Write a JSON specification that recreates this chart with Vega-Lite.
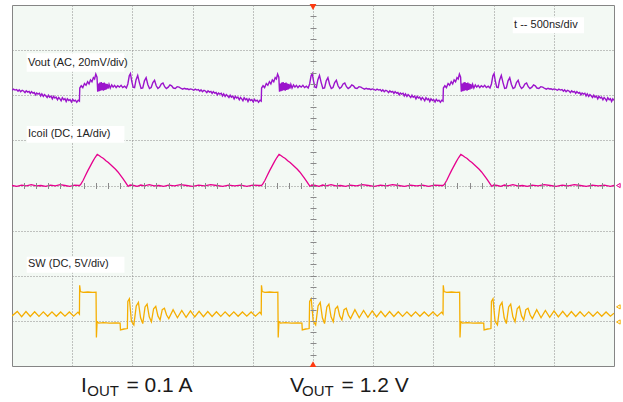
{
  "$schema": "https://vega.github.io/schema/vega-lite/v6.json",
  "width": 602,
  "height": 361,
  "autosize": {"type": "none"},
  "padding": {"left": 12, "top": 5, "right": 9, "bottom": 36},
  "background": "white",
  "config": {
    "view": {"fill": "#f3f9f4", "stroke": "#858585", "strokeWidth": 1},
    "font": "Liberation Sans"
  },
  "datasets": {
    "boxes": [
      {"t1": -2378, "t2": -1566, "y1": 2.930, "y2": 2.522},
      {"t1": -2378, "t2": -1566, "y1": 1.319, "y2": 0.948},
      {"t1": -2378, "t2": -1566, "y1": -1.578, "y2": -1.932},
      {"t1": 1659, "t2": 2251, "y1": 3.727, "y2": 3.373}
    ],
    "labels": [
      {"t": -2367, "y": 2.655, "label": "Vout (AC, 20mV/div)"},
      {"t": -2367, "y": 1.081, "label": "Icoil (DC, 1A/div)"},
      {"t": -2367, "y": -1.800, "label": "SW (DC, 5V/div)"},
      {"t": 1670, "y": 3.484, "label": "t -- 500ns/div"}
    ],
    "big": [
      {"t": -1927, "y": -4.576, "label": "I"},
      {"t": -1549, "y": -4.576, "label": "= 0.1 A"},
      {"t": -191, "y": -4.576, "label": "V"},
      {"t": 237, "y": -4.576, "label": "= 1.2 V"}
    ],
    "sub": [
      {"t": -1875, "y": -4.576, "label": "OUT"},
      {"t": -91, "y": -4.576, "label": "OUT"}
    ],
    "trig": [
      {"t": 0, "y": 3.956, "kind": "top"},
      {"t": 0, "y": -3.96, "kind": "bottom"}
    ],
    "marks": [
      {"t": 2536, "y": 0.0, "ch": "Icoil"},
      {"t": 2536, "y": -2.69, "ch": "SW"},
      {"t": 2536, "y": -3.025, "ch": "SW"}
    ],
    "vout": [
      {"t": -2500, "v": 2.2}, {"t": -2488, "v": 2.7}, {"t": -2475, "v": 2.3}, {"t": -2462, "v": 2.5}, {"t": -2450, "v": 1.8},
      {"t": -2440, "v": 2.4}, {"t": -2428, "v": 1.6}, {"t": -2415, "v": 2.2}, {"t": -2404, "v": 1.9}, {"t": -2392, "v": 1.2},
      {"t": -2382, "v": 2.0}, {"t": -2370, "v": 1.4}, {"t": -2358, "v": 1.7}, {"t": -2348, "v": 0.8}, {"t": -2338, "v": 1.6},
      {"t": -2326, "v": 0.9}, {"t": -2315, "v": 1.2}, {"t": -2304, "v": 0.2}, {"t": -2295, "v": 1.0}, {"t": -2284, "v": 0.5},
      {"t": -2272, "v": 0.9}, {"t": -2262, "v": -0.3}, {"t": -2252, "v": 0.6}, {"t": -2240, "v": -0.5}, {"t": -2230, "v": 0.3},
      {"t": -2220, "v": -0.2}, {"t": -2208, "v": -1.0}, {"t": -2198, "v": 0.0}, {"t": -2188, "v": -0.9}, {"t": -2176, "v": -0.4},
      {"t": -2165, "v": -1.6}, {"t": -2155, "v": -0.5}, {"t": -2144, "v": -1.2}, {"t": -2134, "v": -0.8}, {"t": -2122, "v": -2.0},
      {"t": -2112, "v": -1.0}, {"t": -2102, "v": -1.6}, {"t": -2092, "v": -2.4}, {"t": -2082, "v": -1.1}, {"t": -2070, "v": -2.0},
      {"t": -2060, "v": -1.5}, {"t": -2050, "v": -2.8}, {"t": -2040, "v": -1.6}, {"t": -2028, "v": -2.3}, {"t": -2018, "v": -1.9},
      {"t": -2006, "v": -3.0}, {"t": -1996, "v": -1.8}, {"t": -1984, "v": -2.6}, {"t": -1974, "v": -2.2}, {"t": -1962, "v": -3.1},
      {"t": -1950, "v": -2.2},
      {"t": -1940, "v": -2.6}, {"t": -1937, "v": 3.2}, {"t": -1925, "v": 4.2}, {"t": -1912, "v": 3.4}, {"t": -1898, "v": 5.2},
      {"t": -1885, "v": 4.4}, {"t": -1872, "v": 6.0}, {"t": -1860, "v": 5.0}, {"t": -1848, "v": 6.8}, {"t": -1836, "v": 6.0},
      {"t": -1824, "v": 7.8}, {"t": -1814, "v": 7.2}, {"t": -1804, "v": 9.4}, {"t": -1794, "v": 8.0}, {"t": -1788, "v": 1.6},
      {"t": -1782, "v": 5.2}, {"t": -1776, "v": 1.8}, {"t": -1770, "v": 5.6}, {"t": -1764, "v": 2.0}, {"t": -1758, "v": 5.8},
      {"t": -1752, "v": 2.2}, {"t": -1746, "v": 5.4}, {"t": -1740, "v": 2.0}, {"t": -1734, "v": 5.6}, {"t": -1728, "v": 2.4},
      {"t": -1722, "v": 5.2}, {"t": -1716, "v": 2.6}, {"t": -1710, "v": 5.0}, {"t": -1702, "v": 3.0}, {"t": -1694, "v": 4.8},
      {"t": -1684, "v": 3.2}, {"t": -1672, "v": 4.6}, {"t": -1660, "v": 3.6}, {"t": -1648, "v": 4.4}, {"t": -1635, "v": 3.4},
      {"t": -1622, "v": 4.2}, {"t": -1608, "v": 3.6}, {"t": -1594, "v": 4.4}, {"t": -1580, "v": 3.4}, {"t": -1565, "v": 4.0},
      {"t": -1550, "v": 3.2}, {"t": -1538, "v": 5.0}, {"t": -1526, "v": 8.6}, {"t": -1516, "v": 9.6}, {"t": -1506, "v": 6.4},
      {"t": -1494, "v": 3.6}, {"t": -1482, "v": 3.4}, {"t": -1470, "v": 6.8}, {"t": -1456, "v": 8.8}, {"t": -1442, "v": 5.6},
      {"t": -1428, "v": 3.0}, {"t": -1414, "v": 3.2}, {"t": -1400, "v": 6.4}, {"t": -1386, "v": 7.8}, {"t": -1372, "v": 4.8},
      {"t": -1358, "v": 3.0}, {"t": -1344, "v": 3.4}, {"t": -1330, "v": 5.6}, {"t": -1316, "v": 6.6}, {"t": -1302, "v": 4.2},
      {"t": -1288, "v": 3.0}, {"t": -1274, "v": 3.6}, {"t": -1260, "v": 5.0}, {"t": -1246, "v": 5.4}, {"t": -1232, "v": 3.8},
      {"t": -1218, "v": 3.0}, {"t": -1202, "v": 3.6}, {"t": -1188, "v": 4.6}, {"t": -1174, "v": 4.2}, {"t": -1160, "v": 3.2},
      {"t": -1144, "v": 3.0}, {"t": -1128, "v": 3.8}, {"t": -1112, "v": 3.6},
      {"t": -1095, "v": 3.0}, {"t": -1082, "v": 2.7}, {"t": -1068, "v": 3.1}, {"t": -1056, "v": 2.8}, {"t": -1043, "v": 2.9},
      {"t": -1030, "v": 2.5}, {"t": -1018, "v": 2.8}, {"t": -1004, "v": 2.6}, {"t": -990, "v": 2.2}, {"t": -978, "v": 2.7},
      {"t": -965, "v": 2.3}, {"t": -952, "v": 2.5}, {"t": -940, "v": 1.8}, {"t": -930, "v": 2.4}, {"t": -918, "v": 1.6},
      {"t": -905, "v": 2.2}, {"t": -894, "v": 1.9}, {"t": -882, "v": 1.2}, {"t": -872, "v": 2.0}, {"t": -860, "v": 1.4},
      {"t": -848, "v": 1.7}, {"t": -838, "v": 0.8}, {"t": -828, "v": 1.6}, {"t": -816, "v": 0.9}, {"t": -805, "v": 1.2},
      {"t": -794, "v": 0.2}, {"t": -785, "v": 1.0}, {"t": -774, "v": 0.5}, {"t": -762, "v": 0.9}, {"t": -752, "v": -0.3},
      {"t": -742, "v": 0.6}, {"t": -730, "v": -0.5}, {"t": -720, "v": 0.3}, {"t": -710, "v": -0.2}, {"t": -698, "v": -1.0},
      {"t": -688, "v": 0.0}, {"t": -678, "v": -0.9}, {"t": -666, "v": -0.4}, {"t": -655, "v": -1.6}, {"t": -645, "v": -0.5},
      {"t": -634, "v": -1.2}, {"t": -624, "v": -0.8}, {"t": -612, "v": -2.0}, {"t": -602, "v": -1.0}, {"t": -592, "v": -1.6},
      {"t": -582, "v": -2.4}, {"t": -572, "v": -1.1}, {"t": -560, "v": -2.0}, {"t": -550, "v": -1.5}, {"t": -540, "v": -2.8},
      {"t": -530, "v": -1.6}, {"t": -518, "v": -2.3}, {"t": -508, "v": -1.9}, {"t": -496, "v": -3.0}, {"t": -486, "v": -1.8},
      {"t": -474, "v": -2.6}, {"t": -464, "v": -2.2}, {"t": -452, "v": -3.1}, {"t": -440, "v": -2.2},
      {"t": -430, "v": -2.6}, {"t": -427, "v": 3.2}, {"t": -415, "v": 4.2}, {"t": -402, "v": 3.4}, {"t": -388, "v": 5.2},
      {"t": -375, "v": 4.4}, {"t": -362, "v": 6.0}, {"t": -350, "v": 5.0}, {"t": -338, "v": 6.8}, {"t": -326, "v": 6.0},
      {"t": -314, "v": 7.8}, {"t": -304, "v": 7.2}, {"t": -294, "v": 9.4}, {"t": -284, "v": 8.0}, {"t": -278, "v": 1.6},
      {"t": -272, "v": 5.2}, {"t": -266, "v": 1.8}, {"t": -260, "v": 5.6}, {"t": -254, "v": 2.0}, {"t": -248, "v": 5.8},
      {"t": -242, "v": 2.2}, {"t": -236, "v": 5.4}, {"t": -230, "v": 2.0}, {"t": -224, "v": 5.6}, {"t": -218, "v": 2.4},
      {"t": -212, "v": 5.2}, {"t": -206, "v": 2.6}, {"t": -200, "v": 5.0}, {"t": -192, "v": 3.0}, {"t": -184, "v": 4.8},
      {"t": -174, "v": 3.2}, {"t": -162, "v": 4.6}, {"t": -150, "v": 3.6}, {"t": -138, "v": 4.4}, {"t": -125, "v": 3.4},
      {"t": -112, "v": 4.2}, {"t": -98, "v": 3.6}, {"t": -84, "v": 4.4}, {"t": -70, "v": 3.4}, {"t": -55, "v": 4.0},
      {"t": -40, "v": 3.2}, {"t": -28, "v": 5.0}, {"t": -16, "v": 8.6}, {"t": -6, "v": 9.6}, {"t": 4, "v": 6.4},
      {"t": 16, "v": 3.6}, {"t": 28, "v": 3.4}, {"t": 40, "v": 6.8}, {"t": 54, "v": 8.8}, {"t": 68, "v": 5.6},
      {"t": 82, "v": 3.0}, {"t": 96, "v": 3.2}, {"t": 110, "v": 6.4}, {"t": 124, "v": 7.8}, {"t": 138, "v": 4.8},
      {"t": 152, "v": 3.0}, {"t": 166, "v": 3.4}, {"t": 180, "v": 5.6}, {"t": 194, "v": 6.6}, {"t": 208, "v": 4.2},
      {"t": 222, "v": 3.0}, {"t": 236, "v": 3.6}, {"t": 250, "v": 5.0}, {"t": 264, "v": 5.4}, {"t": 278, "v": 3.8},
      {"t": 292, "v": 3.0}, {"t": 308, "v": 3.6}, {"t": 322, "v": 4.6}, {"t": 336, "v": 4.2}, {"t": 350, "v": 3.2},
      {"t": 366, "v": 3.0}, {"t": 382, "v": 3.8}, {"t": 398, "v": 3.6},
      {"t": 415, "v": 3.0}, {"t": 428, "v": 2.7}, {"t": 442, "v": 3.1}, {"t": 454, "v": 2.8}, {"t": 467, "v": 2.9},
      {"t": 480, "v": 2.5}, {"t": 492, "v": 2.8}, {"t": 506, "v": 2.6}, {"t": 520, "v": 2.2}, {"t": 532, "v": 2.7},
      {"t": 545, "v": 2.3}, {"t": 558, "v": 2.5}, {"t": 570, "v": 1.8}, {"t": 580, "v": 2.4}, {"t": 592, "v": 1.6},
      {"t": 605, "v": 2.2}, {"t": 616, "v": 1.9}, {"t": 628, "v": 1.2}, {"t": 638, "v": 2.0}, {"t": 650, "v": 1.4},
      {"t": 662, "v": 1.7}, {"t": 672, "v": 0.8}, {"t": 682, "v": 1.6}, {"t": 694, "v": 0.9}, {"t": 705, "v": 1.2},
      {"t": 716, "v": 0.2}, {"t": 725, "v": 1.0}, {"t": 736, "v": 0.5}, {"t": 748, "v": 0.9}, {"t": 758, "v": -0.3},
      {"t": 768, "v": 0.6}, {"t": 780, "v": -0.5}, {"t": 790, "v": 0.3}, {"t": 800, "v": -0.2}, {"t": 812, "v": -1.0},
      {"t": 822, "v": 0.0}, {"t": 832, "v": -0.9}, {"t": 844, "v": -0.4}, {"t": 855, "v": -1.6}, {"t": 865, "v": -0.5},
      {"t": 876, "v": -1.2}, {"t": 886, "v": -0.8}, {"t": 898, "v": -2.0}, {"t": 908, "v": -1.0}, {"t": 918, "v": -1.6},
      {"t": 928, "v": -2.4}, {"t": 938, "v": -1.1}, {"t": 950, "v": -2.0}, {"t": 960, "v": -1.5}, {"t": 970, "v": -2.8},
      {"t": 980, "v": -1.6}, {"t": 992, "v": -2.3}, {"t": 1002, "v": -1.9}, {"t": 1014, "v": -3.0}, {"t": 1024, "v": -1.8},
      {"t": 1036, "v": -2.6}, {"t": 1046, "v": -2.2}, {"t": 1058, "v": -3.1}, {"t": 1070, "v": -2.2},
      {"t": 1080, "v": -2.6}, {"t": 1083, "v": 3.2}, {"t": 1095, "v": 4.2}, {"t": 1108, "v": 3.4}, {"t": 1122, "v": 5.2},
      {"t": 1135, "v": 4.4}, {"t": 1148, "v": 6.0}, {"t": 1160, "v": 5.0}, {"t": 1172, "v": 6.8}, {"t": 1184, "v": 6.0},
      {"t": 1196, "v": 7.8}, {"t": 1206, "v": 7.2}, {"t": 1216, "v": 9.4}, {"t": 1226, "v": 8.0}, {"t": 1232, "v": 1.6},
      {"t": 1238, "v": 5.2}, {"t": 1244, "v": 1.8}, {"t": 1250, "v": 5.6}, {"t": 1256, "v": 2.0}, {"t": 1262, "v": 5.8},
      {"t": 1268, "v": 2.2}, {"t": 1274, "v": 5.4}, {"t": 1280, "v": 2.0}, {"t": 1286, "v": 5.6}, {"t": 1292, "v": 2.4},
      {"t": 1298, "v": 5.2}, {"t": 1304, "v": 2.6}, {"t": 1310, "v": 5.0}, {"t": 1318, "v": 3.0}, {"t": 1326, "v": 4.8},
      {"t": 1336, "v": 3.2}, {"t": 1348, "v": 4.6}, {"t": 1360, "v": 3.6}, {"t": 1372, "v": 4.4}, {"t": 1385, "v": 3.4},
      {"t": 1398, "v": 4.2}, {"t": 1412, "v": 3.6}, {"t": 1426, "v": 4.4}, {"t": 1440, "v": 3.4}, {"t": 1455, "v": 4.0},
      {"t": 1470, "v": 3.2}, {"t": 1482, "v": 5.0}, {"t": 1494, "v": 8.6}, {"t": 1504, "v": 9.6}, {"t": 1514, "v": 6.4},
      {"t": 1526, "v": 3.6}, {"t": 1538, "v": 3.4}, {"t": 1550, "v": 6.8}, {"t": 1564, "v": 8.8}, {"t": 1578, "v": 5.6},
      {"t": 1592, "v": 3.0}, {"t": 1606, "v": 3.2}, {"t": 1620, "v": 6.4}, {"t": 1634, "v": 7.8}, {"t": 1648, "v": 4.8},
      {"t": 1662, "v": 3.0}, {"t": 1676, "v": 3.4}, {"t": 1690, "v": 5.6}, {"t": 1704, "v": 6.6}, {"t": 1718, "v": 4.2},
      {"t": 1732, "v": 3.0}, {"t": 1746, "v": 3.6}, {"t": 1760, "v": 5.0}, {"t": 1774, "v": 5.4}, {"t": 1788, "v": 3.8},
      {"t": 1802, "v": 3.0}, {"t": 1818, "v": 3.6}, {"t": 1832, "v": 4.6}, {"t": 1846, "v": 4.2}, {"t": 1860, "v": 3.2},
      {"t": 1876, "v": 3.0}, {"t": 1892, "v": 3.8}, {"t": 1908, "v": 3.6},
      {"t": 1925, "v": 3.0}, {"t": 1938, "v": 2.7}, {"t": 1952, "v": 3.1}, {"t": 1964, "v": 2.8}, {"t": 1977, "v": 2.9},
      {"t": 1990, "v": 2.5}, {"t": 2002, "v": 2.8}, {"t": 2016, "v": 2.6}, {"t": 2030, "v": 2.2}, {"t": 2042, "v": 2.7},
      {"t": 2055, "v": 2.3}, {"t": 2068, "v": 2.5}, {"t": 2080, "v": 1.8}, {"t": 2090, "v": 2.4}, {"t": 2102, "v": 1.6},
      {"t": 2115, "v": 2.2}, {"t": 2126, "v": 1.9}, {"t": 2138, "v": 1.2}, {"t": 2148, "v": 2.0}, {"t": 2160, "v": 1.4},
      {"t": 2172, "v": 1.7}, {"t": 2182, "v": 0.8}, {"t": 2192, "v": 1.6}, {"t": 2204, "v": 0.9}, {"t": 2215, "v": 1.2},
      {"t": 2226, "v": 0.2}, {"t": 2235, "v": 1.0}, {"t": 2246, "v": 0.5}, {"t": 2258, "v": 0.9}, {"t": 2268, "v": -0.3},
      {"t": 2278, "v": 0.6}, {"t": 2290, "v": -0.5}, {"t": 2300, "v": 0.3}, {"t": 2310, "v": -0.2}, {"t": 2322, "v": -1.0},
      {"t": 2332, "v": 0.0}, {"t": 2342, "v": -0.9}, {"t": 2354, "v": -0.4}, {"t": 2365, "v": -1.6}, {"t": 2375, "v": -0.5},
      {"t": 2386, "v": -1.2}, {"t": 2396, "v": -0.8}, {"t": 2408, "v": -2.0}, {"t": 2418, "v": -1.0}, {"t": 2428, "v": -1.6},
      {"t": 2438, "v": -2.4}, {"t": 2448, "v": -1.1}, {"t": 2460, "v": -2.0}, {"t": 2470, "v": -1.5}, {"t": 2480, "v": -2.8},
      {"t": 2490, "v": -1.6}, {"t": 2500, "v": -2.3}
    ],
    "icoil": [
      {"t": -2500, "v": 0.0}, {"t": -2460, "v": -0.02}, {"t": -2420, "v": 0.01}, {"t": -2380, "v": -0.01}, {"t": -2340, "v": 0.02},
      {"t": -2300, "v": -0.01}, {"t": -2260, "v": 0.0}, {"t": -2220, "v": -0.02}, {"t": -2180, "v": 0.01}, {"t": -2140, "v": -0.01},
      {"t": -2100, "v": 0.02}, {"t": -2060, "v": 0.0}, {"t": -2020, "v": -0.02}, {"t": -1980, "v": 0.01}, {"t": -1945, "v": 0.0},
      {"t": -1940, "v": 0.0}, {"t": -1930, "v": 0.02}, {"t": -1910, "v": 0.11}, {"t": -1890, "v": 0.22}, {"t": -1870, "v": 0.33},
      {"t": -1850, "v": 0.43}, {"t": -1830, "v": 0.53}, {"t": -1810, "v": 0.62}, {"t": -1792, "v": 0.69}, {"t": -1780, "v": 0.67},
      {"t": -1760, "v": 0.63}, {"t": -1740, "v": 0.60}, {"t": -1720, "v": 0.55}, {"t": -1700, "v": 0.51}, {"t": -1680, "v": 0.46},
      {"t": -1660, "v": 0.41}, {"t": -1640, "v": 0.36}, {"t": -1620, "v": 0.30}, {"t": -1600, "v": 0.23}, {"t": -1580, "v": 0.16},
      {"t": -1560, "v": 0.08}, {"t": -1545, "v": 0.02}, {"t": -1535, "v": -0.02}, {"t": -1520, "v": 0.01}, {"t": -1490, "v": 0.0},
      {"t": -1460, "v": -0.02}, {"t": -1430, "v": 0.01}, {"t": -1400, "v": -0.01}, {"t": -1360, "v": 0.02}, {"t": -1320, "v": -0.01},
      {"t": -1280, "v": 0.0}, {"t": -1240, "v": -0.02}, {"t": -1200, "v": 0.01}, {"t": -1150, "v": -0.01}, {"t": -1100, "v": 0.02},
      {"t": -1050, "v": 0.0}, {"t": -1000, "v": -0.02}, {"t": -950, "v": 0.01}, {"t": -900, "v": -0.01}, {"t": -850, "v": 0.02},
      {"t": -800, "v": 0.0}, {"t": -750, "v": -0.02}, {"t": -700, "v": 0.01}, {"t": -650, "v": -0.01}, {"t": -600, "v": 0.01},
      {"t": -550, "v": -0.02}, {"t": -500, "v": 0.01}, {"t": -450, "v": 0.0},
      {"t": -430, "v": 0.0}, {"t": -420, "v": 0.02}, {"t": -400, "v": 0.11}, {"t": -380, "v": 0.22}, {"t": -360, "v": 0.33},
      {"t": -340, "v": 0.43}, {"t": -320, "v": 0.53}, {"t": -300, "v": 0.62}, {"t": -282, "v": 0.69}, {"t": -270, "v": 0.67},
      {"t": -250, "v": 0.63}, {"t": -230, "v": 0.60}, {"t": -210, "v": 0.55}, {"t": -190, "v": 0.51}, {"t": -170, "v": 0.46},
      {"t": -150, "v": 0.41}, {"t": -130, "v": 0.36}, {"t": -110, "v": 0.30}, {"t": -90, "v": 0.23}, {"t": -70, "v": 0.16},
      {"t": -50, "v": 0.08}, {"t": -35, "v": 0.02}, {"t": -25, "v": -0.02}, {"t": -10, "v": 0.01}, {"t": 20, "v": 0.0},
      {"t": 50, "v": -0.02}, {"t": 80, "v": 0.01}, {"t": 110, "v": -0.01}, {"t": 150, "v": 0.02}, {"t": 190, "v": -0.01},
      {"t": 230, "v": 0.0}, {"t": 270, "v": -0.02}, {"t": 310, "v": 0.01}, {"t": 360, "v": -0.01}, {"t": 410, "v": 0.02},
      {"t": 460, "v": 0.0}, {"t": 510, "v": -0.02}, {"t": 560, "v": 0.01}, {"t": 610, "v": -0.01}, {"t": 660, "v": 0.02},
      {"t": 710, "v": 0.0}, {"t": 760, "v": -0.02}, {"t": 810, "v": 0.01}, {"t": 860, "v": -0.01}, {"t": 910, "v": 0.01},
      {"t": 960, "v": -0.02}, {"t": 1010, "v": 0.01}, {"t": 1060, "v": 0.0},
      {"t": 1080, "v": 0.0}, {"t": 1090, "v": 0.02}, {"t": 1110, "v": 0.11}, {"t": 1130, "v": 0.22}, {"t": 1150, "v": 0.33},
      {"t": 1170, "v": 0.43}, {"t": 1190, "v": 0.53}, {"t": 1210, "v": 0.62}, {"t": 1228, "v": 0.69}, {"t": 1240, "v": 0.67},
      {"t": 1260, "v": 0.63}, {"t": 1280, "v": 0.60}, {"t": 1300, "v": 0.55}, {"t": 1320, "v": 0.51}, {"t": 1340, "v": 0.46},
      {"t": 1360, "v": 0.41}, {"t": 1380, "v": 0.36}, {"t": 1400, "v": 0.30}, {"t": 1420, "v": 0.23}, {"t": 1440, "v": 0.16},
      {"t": 1460, "v": 0.08}, {"t": 1475, "v": 0.02}, {"t": 1485, "v": -0.02}, {"t": 1500, "v": 0.01}, {"t": 1530, "v": 0.0},
      {"t": 1560, "v": -0.02}, {"t": 1590, "v": 0.01}, {"t": 1620, "v": -0.01}, {"t": 1660, "v": 0.02}, {"t": 1700, "v": -0.01},
      {"t": 1740, "v": 0.0}, {"t": 1780, "v": -0.02}, {"t": 1820, "v": 0.01}, {"t": 1870, "v": -0.01}, {"t": 1920, "v": 0.02},
      {"t": 1970, "v": 0.0}, {"t": 2020, "v": -0.02}, {"t": 2070, "v": 0.01}, {"t": 2120, "v": -0.01}, {"t": 2170, "v": 0.02},
      {"t": 2220, "v": 0.0}, {"t": 2270, "v": -0.02}, {"t": 2320, "v": 0.01}, {"t": 2370, "v": -0.01}, {"t": 2420, "v": 0.01},
      {"t": 2470, "v": -0.02}, {"t": 2500, "v": 0.0}
    ],
    "sw": [
      {"t": -2500, "v": 1.0}, {"t": -2456, "v": 1.5}, {"t": -2420, "v": 0.92}, {"t": -2384, "v": 1.48}, {"t": -2348, "v": 0.94},
      {"t": -2312, "v": 1.46}, {"t": -2276, "v": 0.95}, {"t": -2240, "v": 1.45}, {"t": -2204, "v": 0.96}, {"t": -2168, "v": 1.45},
      {"t": -2132, "v": 0.96}, {"t": -2096, "v": 1.44}, {"t": -2060, "v": 0.97}, {"t": -2024, "v": 1.44}, {"t": -1988, "v": 0.97},
      {"t": -1952, "v": 1.42},
      {"t": -1940, "v": 1.2}, {"t": -1938, "v": 4.4}, {"t": -1932, "v": 3.7}, {"t": -1910, "v": 3.6}, {"t": -1870, "v": 3.65},
      {"t": -1830, "v": 3.6}, {"t": -1802, "v": 3.62}, {"t": -1799, "v": -1.4}, {"t": -1793, "v": 0.4}, {"t": -1780, "v": 0.2},
      {"t": -1740, "v": 0.25}, {"t": -1690, "v": 0.2}, {"t": -1640, "v": 0.22}, {"t": -1602, "v": 0.2}, {"t": -1599, "v": -0.55},
      {"t": -1570, "v": -0.45}, {"t": -1542, "v": -0.4}, {"t": -1538, "v": 2.6}, {"t": -1525, "v": 2.9}, {"t": -1508, "v": 0.4},
      {"t": -1488, "v": 0.0}, {"t": -1468, "v": 2.1}, {"t": -1450, "v": 2.5}, {"t": -1432, "v": 0.8}, {"t": -1414, "v": 0.15},
      {"t": -1395, "v": 2.0}, {"t": -1378, "v": 2.3}, {"t": -1360, "v": 0.9}, {"t": -1342, "v": 0.35}, {"t": -1324, "v": 1.8},
      {"t": -1306, "v": 2.05}, {"t": -1288, "v": 1.0}, {"t": -1270, "v": 0.55}, {"t": -1252, "v": 1.7}, {"t": -1234, "v": 1.85},
      {"t": -1216, "v": 1.1}, {"t": -1198, "v": 0.7}, {"t": -1162, "v": 1.7}, {"t": -1126, "v": 0.8}, {"t": -1090, "v": 1.6},
      {"t": -1054, "v": 0.85}, {"t": -1018, "v": 1.55}, {"t": -982, "v": 0.9}, {"t": -946, "v": 1.5}, {"t": -910, "v": 0.92},
      {"t": -874, "v": 1.48}, {"t": -838, "v": 0.94}, {"t": -802, "v": 1.46}, {"t": -766, "v": 0.95}, {"t": -730, "v": 1.45},
      {"t": -694, "v": 0.96}, {"t": -658, "v": 1.45}, {"t": -622, "v": 0.96}, {"t": -586, "v": 1.44}, {"t": -550, "v": 0.97},
      {"t": -514, "v": 1.44}, {"t": -478, "v": 0.97}, {"t": -442, "v": 1.42},
      {"t": -430, "v": 1.2}, {"t": -428, "v": 4.4}, {"t": -422, "v": 3.7}, {"t": -400, "v": 3.6}, {"t": -360, "v": 3.65},
      {"t": -320, "v": 3.6}, {"t": -292, "v": 3.62}, {"t": -289, "v": -1.4}, {"t": -283, "v": 0.4}, {"t": -270, "v": 0.2},
      {"t": -230, "v": 0.25}, {"t": -180, "v": 0.2}, {"t": -130, "v": 0.22}, {"t": -92, "v": 0.2}, {"t": -89, "v": -0.55},
      {"t": -60, "v": -0.45}, {"t": -32, "v": -0.4}, {"t": -28, "v": 2.6}, {"t": -15, "v": 2.9}, {"t": 2, "v": 0.4},
      {"t": 22, "v": 0.0}, {"t": 42, "v": 2.1}, {"t": 60, "v": 2.5}, {"t": 78, "v": 0.8}, {"t": 96, "v": 0.15},
      {"t": 115, "v": 2.0}, {"t": 132, "v": 2.3}, {"t": 150, "v": 0.9}, {"t": 168, "v": 0.35}, {"t": 186, "v": 1.8},
      {"t": 204, "v": 2.05}, {"t": 222, "v": 1.0}, {"t": 240, "v": 0.55}, {"t": 258, "v": 1.7}, {"t": 276, "v": 1.85},
      {"t": 294, "v": 1.1}, {"t": 312, "v": 0.7}, {"t": 348, "v": 1.7}, {"t": 384, "v": 0.8}, {"t": 420, "v": 1.6},
      {"t": 456, "v": 0.85}, {"t": 492, "v": 1.55}, {"t": 528, "v": 0.9}, {"t": 564, "v": 1.5}, {"t": 600, "v": 0.92},
      {"t": 636, "v": 1.48}, {"t": 672, "v": 0.94}, {"t": 708, "v": 1.46}, {"t": 744, "v": 0.95}, {"t": 780, "v": 1.45},
      {"t": 816, "v": 0.96}, {"t": 852, "v": 1.45}, {"t": 888, "v": 0.96}, {"t": 924, "v": 1.44}, {"t": 960, "v": 0.97},
      {"t": 996, "v": 1.44}, {"t": 1032, "v": 0.97}, {"t": 1068, "v": 1.42},
      {"t": 1080, "v": 1.2}, {"t": 1082, "v": 4.4}, {"t": 1088, "v": 3.7}, {"t": 1110, "v": 3.6}, {"t": 1150, "v": 3.65},
      {"t": 1190, "v": 3.6}, {"t": 1218, "v": 3.62}, {"t": 1221, "v": -1.4}, {"t": 1227, "v": 0.4}, {"t": 1240, "v": 0.2},
      {"t": 1280, "v": 0.25}, {"t": 1330, "v": 0.2}, {"t": 1380, "v": 0.22}, {"t": 1418, "v": 0.2}, {"t": 1421, "v": -0.55},
      {"t": 1450, "v": -0.45}, {"t": 1478, "v": -0.4}, {"t": 1482, "v": 2.6}, {"t": 1495, "v": 2.9}, {"t": 1512, "v": 0.4},
      {"t": 1532, "v": 0.0}, {"t": 1552, "v": 2.1}, {"t": 1570, "v": 2.5}, {"t": 1588, "v": 0.8}, {"t": 1606, "v": 0.15},
      {"t": 1625, "v": 2.0}, {"t": 1642, "v": 2.3}, {"t": 1660, "v": 0.9}, {"t": 1678, "v": 0.35}, {"t": 1696, "v": 1.8},
      {"t": 1714, "v": 2.05}, {"t": 1732, "v": 1.0}, {"t": 1750, "v": 0.55}, {"t": 1768, "v": 1.7}, {"t": 1786, "v": 1.85},
      {"t": 1804, "v": 1.1}, {"t": 1822, "v": 0.7}, {"t": 1858, "v": 1.7}, {"t": 1894, "v": 0.8}, {"t": 1930, "v": 1.6},
      {"t": 1966, "v": 0.85}, {"t": 2002, "v": 1.55}, {"t": 2038, "v": 0.9}, {"t": 2074, "v": 1.5}, {"t": 2110, "v": 0.92},
      {"t": 2146, "v": 1.48}, {"t": 2182, "v": 0.94}, {"t": 2218, "v": 1.46}, {"t": 2254, "v": 0.95}, {"t": 2290, "v": 1.45},
      {"t": 2326, "v": 0.96}, {"t": 2362, "v": 1.45}, {"t": 2398, "v": 0.96}, {"t": 2434, "v": 1.44}, {"t": 2470, "v": 0.97},
      {"t": 2500, "v": 1.3}
    ]
  },
  "layer": [
    {
      "data": {"name": "boxes"},
      "mark": {"type": "rect", "fill": "white", "stroke": null},
      "encoding": {
        "x": {"field": "t1", "type": "quantitative",
              "scale": {"domain": [-2500, 2500], "nice": false, "zero": false},
              "axis": {"values": [-2000, -1500, -1000, -500, 0, 500, 1000, 1500, 2000], "grid": true,
                       "gridDash": [1, 2], "gridColor": "#8a8a8a", "gridOpacity": 1, "gridWidth": 1,
                       "ticks": false, "labels": false, "domain": false, "title": null}},
        "x2": {"field": "t2"},
        "y": {"field": "y1", "type": "quantitative",
              "scale": {"domain": [-4, 4], "nice": false, "zero": false},
              "axis": {"values": [-3, -2, -1, 0, 1, 2, 3], "grid": true,
                       "gridDash": [1, 2], "gridColor": "#8a8a8a", "gridOpacity": 1, "gridWidth": 1,
                       "ticks": false, "labels": false, "domain": false, "title": null}},
        "y2": {"field": "y2"}
      }
    },
    {
      "data": {"name": "labels"},
      "mark": {"type": "text", "align": "left", "baseline": "alphabetic", "fontSize": 11, "color": "#222222", "font": "Liberation Sans"},
      "encoding": {
        "x": {"field": "t", "type": "quantitative",
              "scale": {"domain": [-2500, 2500], "nice": false, "zero": false},
              "axis": {"orient": "bottom", "offset": -183.5,
                       "values": [-2400,-2300,-2200,-2100,-2000,-1900,-1800,-1700,-1600,-1500,-1400,-1300,-1200,-1100,-1000,-900,-800,-700,-600,-500,-400,-300,-200,-100,0,100,200,300,400,500,600,700,800,900,1000,1100,1200,1300,1400,1500,1600,1700,1800,1900,2000,2100,2200,2300,2400],
                       "ticks": true, "tickSize": 6, "tickColor": "#8a8a8a", "tickWidth": 1,
                       "labels": false, "domain": false, "grid": false, "title": null, "zindex": 1}},
        "y": {"field": "y", "type": "quantitative",
              "scale": {"domain": [-4, 4], "nice": false, "zero": false},
              "axis": {"orient": "left", "offset": -304,
                       "values": [-3.75,-3.5,-3.25,-3,-2.75,-2.5,-2.25,-2,-1.75,-1.5,-1.25,-1,-0.75,-0.5,-0.25,0,0.25,0.5,0.75,1,1.25,1.5,1.75,2,2.25,2.5,2.75,3,3.25,3.5,3.75],
                       "ticks": true, "tickSize": 6, "tickColor": "#8a8a8a", "tickWidth": 1,
                       "labels": false, "domain": false, "grid": false, "title": null, "zindex": 1}},
        "text": {"field": "label"}
      }
    },
    {
      "data": {"name": "vout"},
      "mark": {"type": "line", "color": "#9b14cc", "strokeWidth": 1.4, "clip": true},
      "encoding": {
        "x": {"field": "t", "type": "quantitative", "scale": {"domain": [-2500, 2500], "nice": false, "zero": false}, "axis": null},
        "y": {"field": "v", "type": "quantitative", "scale": {"domain": [-120, 40], "nice": false, "zero": false}, "axis": null}
      }
    },
    {
      "data": {"name": "icoil"},
      "mark": {"type": "line", "color": "#e6008e", "strokeWidth": 1.3, "clip": true},
      "encoding": {
        "x": {"field": "t", "type": "quantitative", "scale": {"domain": [-2500, 2500], "nice": false, "zero": false}, "axis": null},
        "y": {"field": "v", "type": "quantitative", "scale": {"domain": [-4, 4], "nice": false, "zero": false}, "axis": null}
      }
    },
    {
      "data": {"name": "sw"},
      "mark": {"type": "line", "color": "#f5ae00", "strokeWidth": 1.3, "clip": true},
      "encoding": {
        "x": {"field": "t", "type": "quantitative", "scale": {"domain": [-2500, 2500], "nice": false, "zero": false}, "axis": null},
        "y": {"field": "v", "type": "quantitative", "scale": {"domain": [-4.55, 35.45], "nice": false, "zero": false}, "axis": null}
      }
    },
    {
      "data": {"name": "trig"},
      "mark": {"type": "point", "filled": true, "size": 45, "color": "#ff3a10", "opacity": 1},
      "encoding": {
        "x": {"field": "t", "type": "quantitative", "scale": {"domain": [-2500, 2500], "nice": false, "zero": false}, "axis": null},
        "y": {"field": "y", "type": "quantitative", "scale": {"domain": [-4, 4], "nice": false, "zero": false}, "axis": null},
        "shape": {"field": "kind", "type": "nominal", "scale": {"domain": ["top", "bottom"], "range": ["triangle-down", "triangle-up"]}, "legend": null}
      }
    },
    {
      "data": {"name": "marks"},
      "mark": {"type": "point", "shape": "triangle-left", "filled": false, "size": 18, "strokeWidth": 1, "opacity": 1},
      "encoding": {
        "x": {"field": "t", "type": "quantitative", "scale": {"domain": [-2500, 2500], "nice": false, "zero": false}, "axis": null},
        "y": {"field": "y", "type": "quantitative", "scale": {"domain": [-4, 4], "nice": false, "zero": false}, "axis": null},
        "color": {"field": "ch", "type": "nominal", "scale": {"domain": ["Icoil", "SW"], "range": ["#e6008e", "#f5ae00"]}, "legend": null}
      }
    },
    {
      "data": {"name": "big"},
      "mark": {"type": "text", "align": "left", "baseline": "alphabetic", "fontSize": 21, "color": "#1a1a1a", "font": "Liberation Sans"},
      "encoding": {
        "x": {"field": "t", "type": "quantitative", "scale": {"domain": [-2500, 2500], "nice": false, "zero": false}, "axis": null},
        "y": {"field": "y", "type": "quantitative", "scale": {"domain": [-4, 4], "nice": false, "zero": false}, "axis": null},
        "text": {"field": "label"}
      }
    },
    {
      "data": {"name": "sub"},
      "mark": {"type": "text", "align": "left", "baseline": "alphabetic", "fontSize": 15, "dy": 4, "color": "#1a1a1a", "font": "Liberation Sans"},
      "encoding": {
        "x": {"field": "t", "type": "quantitative", "scale": {"domain": [-2500, 2500], "nice": false, "zero": false}, "axis": null},
        "y": {"field": "y", "type": "quantitative", "scale": {"domain": [-4, 4], "nice": false, "zero": false}, "axis": null},
        "text": {"field": "label"}
      }
    }
  ],
  "resolve": {"scale": {"y": "independent", "color": "independent", "shape": "independent"}, "axis": {"x": "independent", "y": "independent"}}
}
